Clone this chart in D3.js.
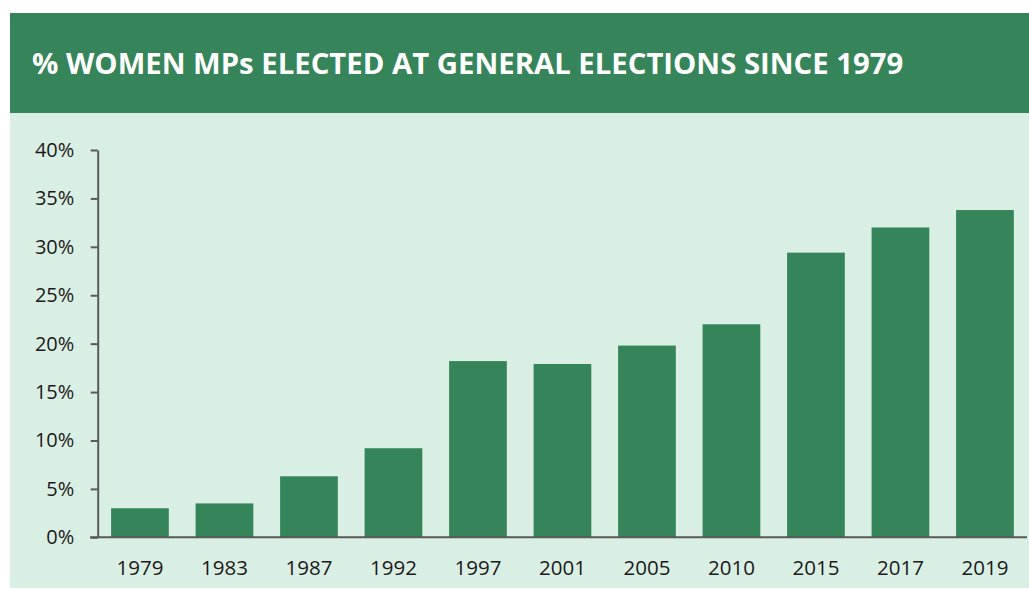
<!DOCTYPE html>
<html>
<head>
<meta charset="utf-8">
<script src="https://cdn.jsdelivr.net/npm/d3@7"></script>
<style>
  html, body { margin: 0; padding: 0; background: #ffffff; }
  svg { display: block; }
</style>
</head>
<body>
<svg id="chart" width="1029" height="589"></svg>
<script>
// Election years and share of women MPs elected (%)
const years = ["1979", "1983", "1987", "1992", "1997", "2001", "2005", "2010", "2015", "2017", "2019"];
const womenShare = [3.0, 3.5, 6.3, 9.2, 18.2, 17.9, 19.8, 22.0, 29.4, 32.0, 33.8];
const yTicks = [0, 5, 10, 15, 20, 25, 30, 35, 40];
const titleText = "% WOMEN MPs ELECTED AT GENERAL ELECTIONS SINCE 1979";

const W = 1029, H = 589;
const svg = d3.select("#chart");

const darkGreen = "#368459";
const lightGreen = "#daefe3";

// Panel background and title band
svg.append("rect").attr("x", 10).attr("y", 113).attr("width", W - 10).attr("height", 475).attr("fill", lightGreen);
svg.append("rect").attr("x", 10).attr("y", 13).attr("width", W - 10).attr("height", 100).attr("fill", darkGreen);
svg.append("text")
  .attr("x", 32).attr("y", 74)
  .attr("fill", "#ffffff")
  .attr("font-family", "'Open Sans', sans-serif")
  .attr("font-weight", 700)
  .attr("font-size", 29.3)
  .text(titleText);

// Scales
const x = d3.scaleBand().domain(years).range([97.7, 1027.2]).paddingInner(0.317).paddingOuter(0.1585);
const y = d3.scaleLinear().domain([0, 40]).range([537.3, 150]);

// Bars
svg.append("g").selectAll("rect")
  .data(years.map((yr, i) => ({ yr, v: womenShare[i] })))
  .join("rect")
  .attr("x", d => x(d.yr))
  .attr("width", x.bandwidth())
  .attr("y", d => y(d.v))
  .attr("height", d => y(0) - y(d.v))
  .attr("fill", darkGreen);

const axisColor = "#595959";
const labelFont = "'Open Sans', sans-serif";

// Y axis
const yAxis = svg.append("g")
  .attr("transform", "translate(97.7,0)")
  .call(d3.axisLeft(y).tickValues(yTicks).tickFormat(d => d + "%").tickSize(7).tickSizeOuter(0).tickPadding(16));
yAxis.select(".domain").attr("stroke", axisColor).attr("stroke-width", 2);
yAxis.selectAll(".tick line").attr("stroke", axisColor).attr("stroke-width", 2);
yAxis.selectAll(".tick text")
  .attr("font-family", labelFont).attr("font-size", 20).attr("fill", "#1a1a1a")
  .attr("x", -23.4);

// X axis
const xAxis = svg.append("g")
  .attr("transform", `translate(0,${y(0)})`)
  .call(d3.axisBottom(x).tickSize(0).tickPadding(23.5));
xAxis.select(".domain").attr("stroke", axisColor).attr("stroke-width", 2)
  .attr("d", `M90,0H1027`);
xAxis.selectAll(".tick text")
  .attr("font-family", labelFont).attr("font-size", 20.5).attr("fill", "#1a1a1a");
</script>
</body>
</html>
